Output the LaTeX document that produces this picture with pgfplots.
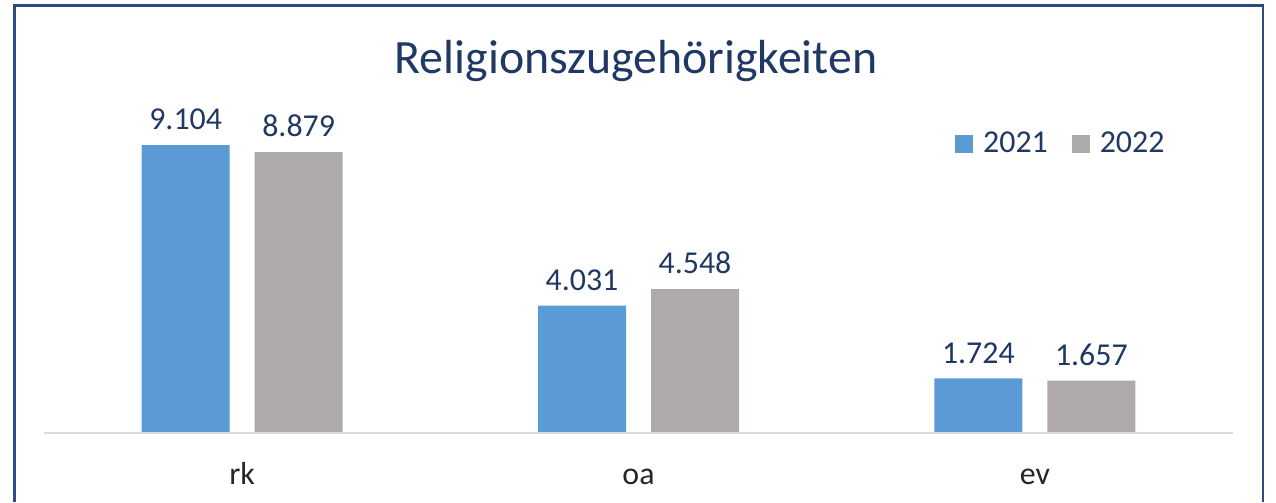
\documentclass[border=0pt]{standalone}
\usepackage{fontspec}
\setmainfont{Carlito}
\usepackage{pgfplots}
\pgfplotsset{compat=1.18}
\definecolor{barblue}{HTML}{5B9BD5}
\definecolor{bargray}{HTML}{AEAAAA}
\definecolor{navy}{HTML}{1F3864}
\definecolor{framec}{HTML}{2F4B7C}
\definecolor{axisgray}{HTML}{D9D9D9}

\begin{document}
\begin{tikzpicture}[x=1bp,y=1bp]
\useasboundingbox (0,0) rectangle (638,251);
\draw[framec, line width=1.2bp] (7.25,0) -- (7.25,248.25) -- (631.5,248.25) -- (631.5,0);
\begin{axis}[
  at={(22bp,34.5bp)}, anchor=south west,
  width=594.5bp, height=158.15bp, scale only axis,
  ymin=0, ymax=10000, xmin=-0.5, xmax=2.5,
  ybar=12.5bp, bar width=44bp,
  axis x line*=bottom, axis y line=none,
  x axis line style={draw=none},
  xtick=data, xticklabels={rk,oa,ev}, major tick length=0pt,
  ytick=\empty,
  /pgf/number format/assume math mode=true,
  /pgf/number format/1000 sep={.},
  xticklabel style={font=\fontsize{16}{19}\selectfont, text=black!85, anchor=base, yshift=-25.5bp},
  nodes near coords={\pgfmathprintnumber{\pgfplotspointmeta}},
  every node near coord/.append style={font=\fontsize{16}{19}\selectfont, text=navy, yshift=4bp},
  legend style={at={(0.766,0.914)}, anchor=west, draw=none, fill=none,
    inner xsep=0pt, inner ysep=0pt, legend columns=2,
    font=\fontsize{16}{19}\selectfont, text=navy,
    /tikz/every odd column/.append style={column sep=3bp},
    /tikz/every even column/.append style={column sep=10bp}},
  legend image code/.code={\fill[#1,draw=none] (0bp,-4.5bp) rectangle (9bp,4.5bp);},
]
\addplot[fill=barblue, draw=none] coordinates {(0,9104) (1,4031) (2,1724)};
\addplot[fill=bargray, draw=none] coordinates {(0,8879) (1,4548) (2,1657)};
\legend{2021,2022}
\end{axis}
\draw[axisgray, line width=1bp] (22,34.5) -- (616.5,34.5);
\node[anchor=base, text=navy, font=\fontsize{24}{28}\selectfont] at (318,214.5) {Religionszugehörigkeiten};
\end{tikzpicture}
\end{document}
